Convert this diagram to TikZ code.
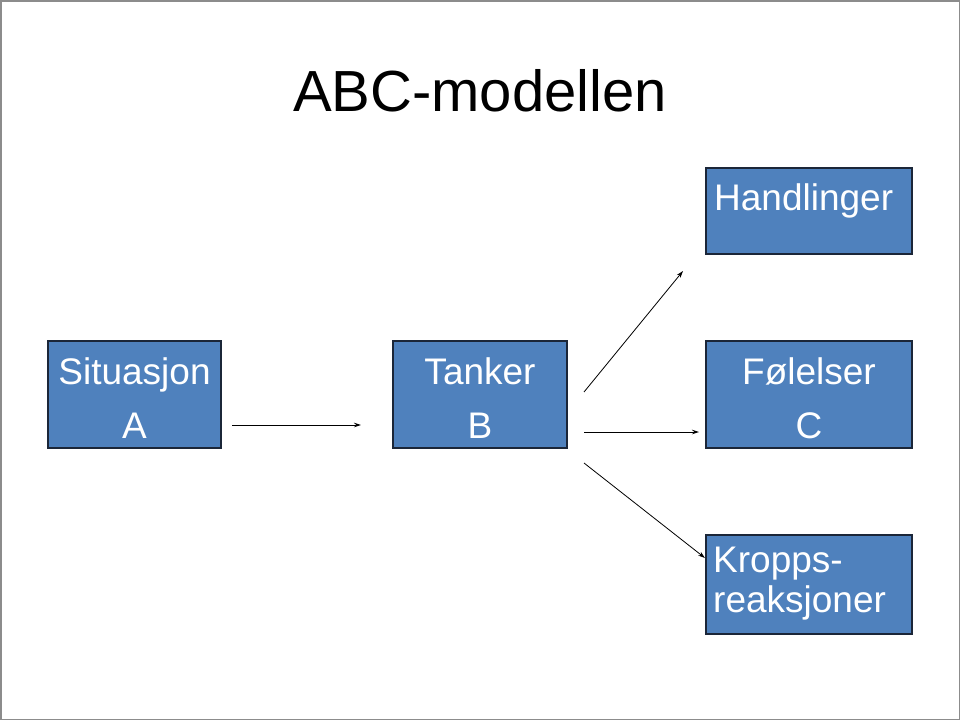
\documentclass[tikz,border=0pt]{standalone}
\usepackage{fontspec}
\setmainfont{Liberation Sans}
\usetikzlibrary{arrows.meta}
\definecolor{boxfill}{HTML}{4F81BD}
\definecolor{boxline}{HTML}{1B2638}
\definecolor{frameg}{HTML}{8C8C8C}
\tikzset{
  box/.style={draw=boxline, line width=1.4pt, fill=boxfill, inner sep=0pt},
  lbl/.style={text=white, font=\fontsize{37}{44}\selectfont, anchor=base, inner sep=0pt},
  lbll/.style={lbl, anchor=base west},
  conn/.style={line width=0.8pt, -{Stealth[length=7pt,width=4.5pt]}}
}
\begin{document}
\begin{tikzpicture}[x=1pt,y=-1pt]
\useasboundingbox (0,0) rectangle (960,720);
\draw[frameg, line width=1.5pt] (0.75,0.75) rectangle (959.25,719.25);
\node[anchor=base, font=\fontsize{58}{66}\selectfont, inner sep=0pt] (title) at (480,111) {ABC-modellen};
% boxes
\node[box, minimum width=206pt, minimum height=86pt] (H) at (809,211) {};
\node[box, minimum width=173pt, minimum height=107pt] (A) at (134.5,394.5) {};
\node[box, minimum width=174pt, minimum height=107pt] (B) at (480,394.5) {};
\node[box, minimum width=206pt, minimum height=107pt] (C) at (809,394.5) {};
\node[box, minimum width=206pt, minimum height=99pt] (K) at (809,584.5) {};
% labels
\node[lbll] (Ht) at (714,210) {Handlinger};
\node[lbl] (At1) at (134.5,384) {Situasjon};
\node[lbl] (At2) at (134.5,438) {A};
\node[lbl] (Bt1) at (480,384) {Tanker};
\node[lbl] (Bt2) at (480,438) {B};
\node[lbl] (Ct1) at (809,384) {Følelser};
\node[lbl] (Ct2) at (809,438) {C};
\node[lbll] (Kt1) at (713,572) {Kropps-};
\node[lbll] (Kt2) at (713,612) {reaksjoner};
% connector ends
\coordinate (a0) at (232,425);
\coordinate (a1) at (361,425);
\coordinate (b0) at (584,392);
\coordinate (b1) at (683,271);
\coordinate (c0) at (584,432);
\coordinate (c1) at (699,432);
\coordinate (d0) at (584,463);
\coordinate (d1) at (705,558);
\draw[conn] (a0) -- (a1);
\draw[conn] (b0) -- (b1);
\draw[conn] (c0) -- (c1);
\draw[conn] (d0) -- (d1);
\end{tikzpicture}
\end{document}
